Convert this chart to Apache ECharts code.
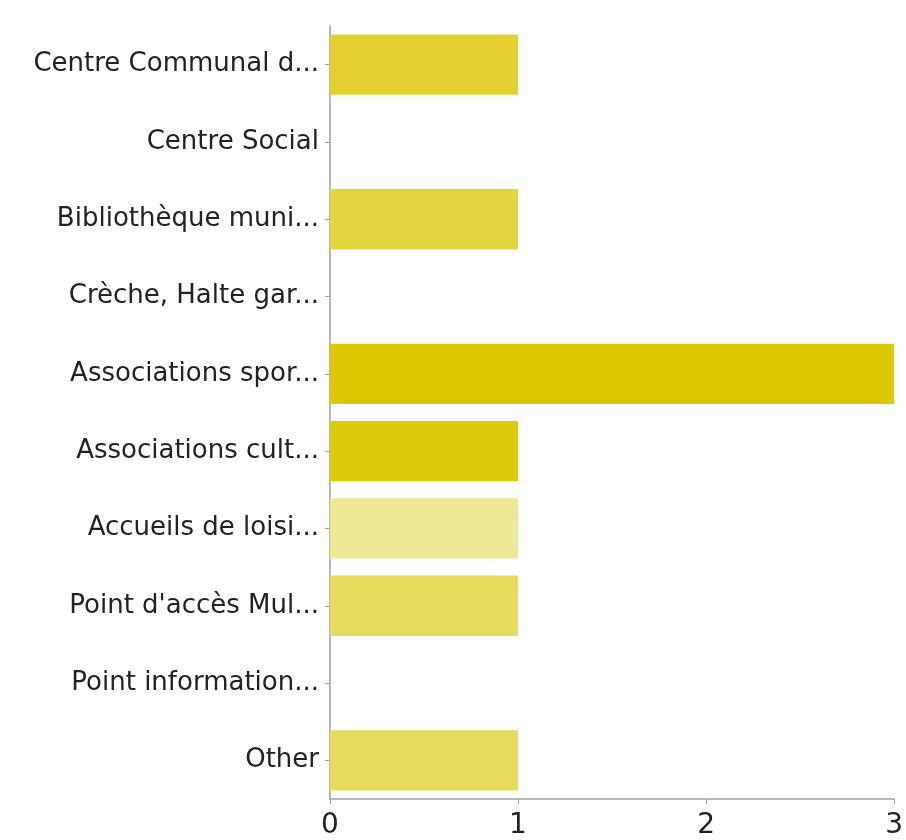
<!DOCTYPE html>
<html><head><meta charset="utf-8">
<script src="https://cdn.jsdelivr.net/npm/echarts@6/dist/echarts.min.js"></script>
<style>html,body{margin:0;padding:0;background:#fff}#c{width:906px;height:840px}</style>
</head><body><div id="c"></div>
<script>
const categories = ["Centre Communal d...", "Centre Social", "Bibliothèque muni...", "Crèche, Halte gar...", "Associations spor...", "Associations cult...", "Accueils de loisi...", "Point d'accès Mul...", "Point information...", "Other"];
const values = [1, 0, 1, 0, 3, 1, 1, 1, 0, 1];
const barColors = ["#e3d030", "#e3d13e", "#e3d440", "#e3d440", "#dcc800", "#dccb0a", "#ede893", "#e6dc5e", "#e6dc5e", "#e5db5c"];
const xTicks = [0, 1, 2, 3];

const chart = echarts.init(document.getElementById('c'), null, {renderer: 'canvas'});
chart.setOption({
  animation: false,
  grid: {left: 330, right: 8, top: 26, bottom: 38, containLabel: false},
  xAxis: {
    type: 'value', min: xTicks[0], max: xTicks[xTicks.length-1], interval: 1,
    axisLine: {show: true, lineStyle: {color: '#a0a0a0', width: 1.5}},
    axisTick: {show: true, length: 5, lineStyle: {color: '#a0a0a0'}},
    splitLine: {show: false},
    axisLabel: {fontFamily: 'DejaVu Sans, sans-serif', fontSize: 28, color: '#222', margin: 13,
      alignMinLabel: 'center', alignMaxLabel: 'center'}
  },
  yAxis: {
    type: 'category', data: categories, inverse: true,
    axisLine: {show: true, lineStyle: {color: '#a0a0a0', width: 1.5}},
    axisTick: {show: true, alignWithLabel: true, length: 5, lineStyle: {color: '#a0a0a0'}},
    axisLabel: {fontFamily: 'DejaVu Sans, sans-serif', fontSize: 26, color: '#222', margin: 11}
  },
  series: [{
    type: 'bar', barCategoryGap: '22%',
    data: values.map((v, i) => ({value: v, itemStyle: {color: barColors[i]}}))
  }]
});
</script></body></html>
